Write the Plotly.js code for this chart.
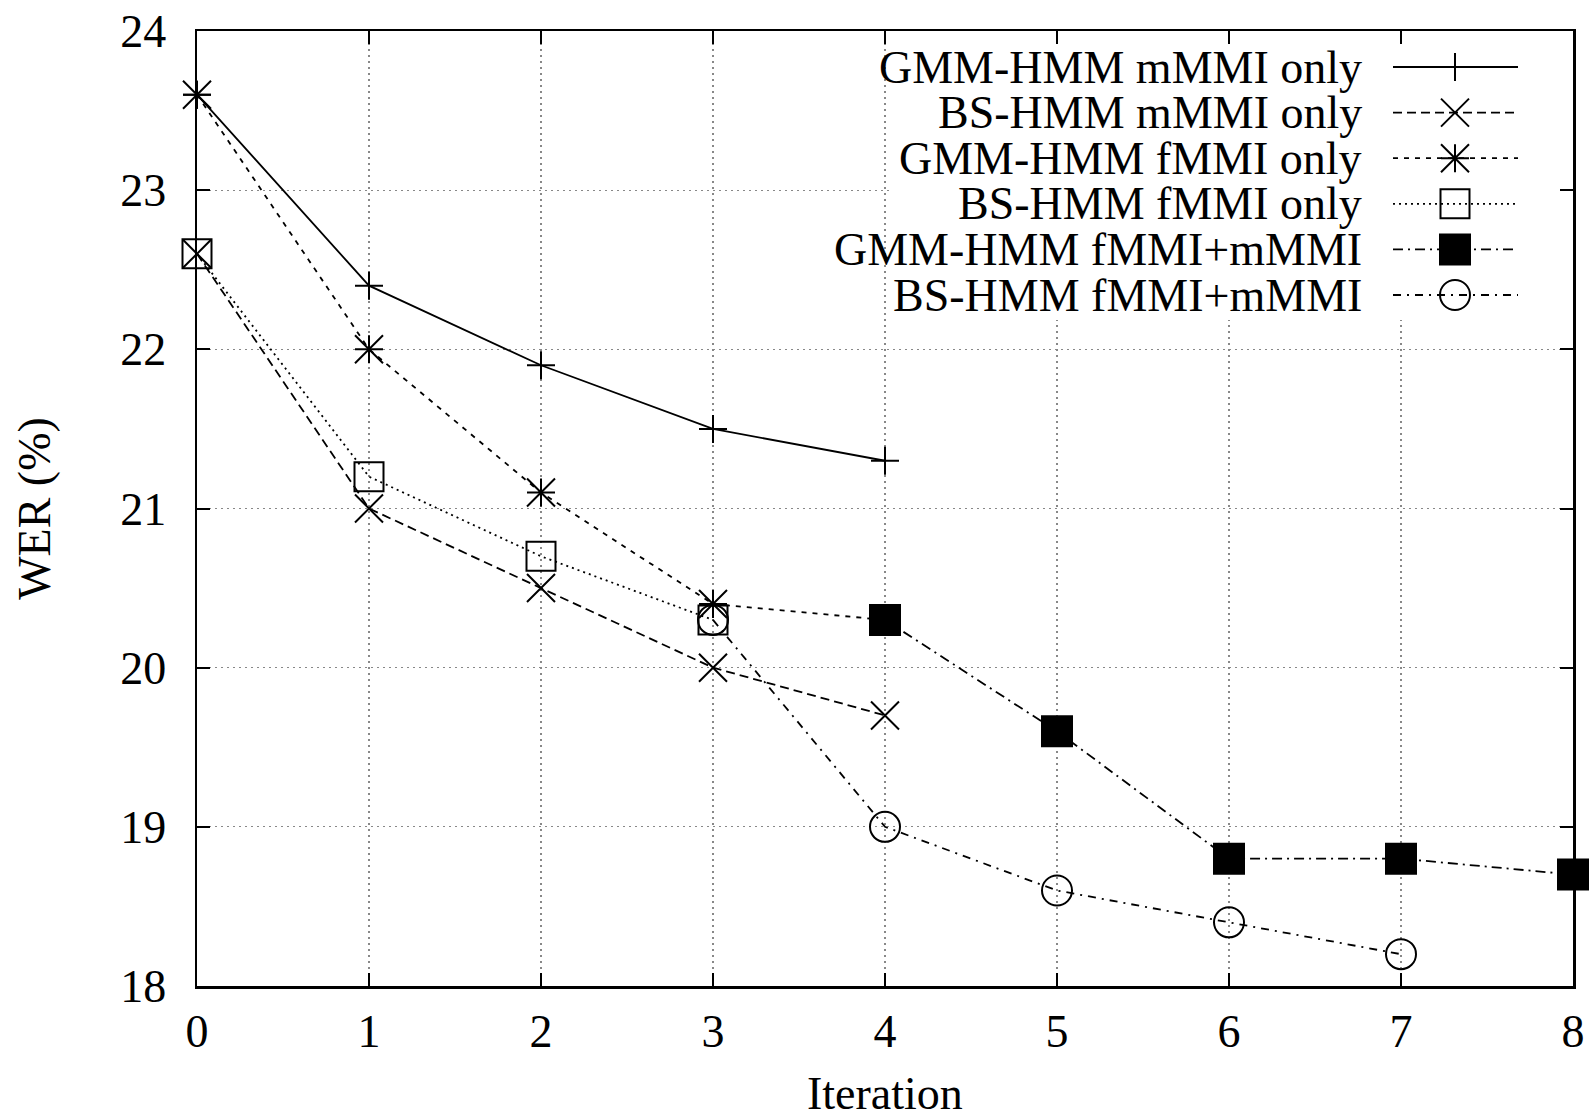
<!DOCTYPE html>
<html>
<head>
<meta charset="utf-8">
<script src="https://cdn.plot.ly/plotly-3.0.1.min.js"></script>
<style>html,body{margin:0;padding:0;background:#fff;}#chart{width:1593px;height:1119px;}</style>
</head>
<body>
<div id="chart"></div>
<script>
// ---- data ----
const seriesNames = [
  "GMM-HMM mMMI only",
  "BS-HMM mMMI only",
  "GMM-HMM fMMI only",
  "BS-HMM fMMI only",
  "GMM-HMM fMMI+mMMI",
  "BS-HMM fMMI+mMMI"
];
const gmmMmmiX = [0, 1, 2, 3, 4];
const gmmMmmiY = [23.6, 22.4, 21.9, 21.5, 21.3];
const bsMmmiX = [0, 1, 2, 3, 4];
const bsMmmiY = [22.6, 21.0, 20.5, 20.0, 19.7];
const gmmFmmiX = [0, 1, 2, 3, 4];
const gmmFmmiY = [23.6, 22.0, 21.1, 20.4, 20.3];
const bsFmmiX = [0, 1, 2, 3];
const bsFmmiY = [22.6, 21.2, 20.7, 20.3];
const gmmBothX = [4, 5, 6, 7, 8];
const gmmBothY = [20.3, 19.6, 18.8, 18.8, 18.7];
const bsBothX = [3, 4, 5, 6, 7];
const bsBothY = [20.3, 19.0, 18.6, 18.4, 18.2];
const xTicks = [0, 1, 2, 3, 4, 5, 6, 7, 8];
const yTicks = [18, 19, 20, 21, 22, 23, 24];
const xTitle = "Iteration";
const yTitle = "WER (%)";

// ---- styles ----
const FONT = "Liberation Serif, Times New Roman, serif";
const FS = 46;
const W = 1593, H = 1119;
const L = 197, R = 20, T = 31, B = 133;
const PX0 = L, PX1 = W - R, PY0 = T, PY1 = H - B;

const styles = [
  {dash: "solid", sym: "cross-thin-open", size: 20},
  {dash: "9px,5px", sym: "x-thin-open", size: 28},
  {dash: "5px,6px", sym: "cross-thin-open", size: 20, extra: {sym: "x-thin-open", size: 28}},
  {dash: "2px,4px", sym: "square-open", size: 29},
  {dash: "10px,5px,2px,5px", sym: "square", size: 30},
  {dash: "8px,6px,2px,6px", sym: "circle-open", size: 30}
];
const xs = [gmmMmmiX, bsMmmiX, gmmFmmiX, bsFmmiX, gmmBothX, bsBothX];
const ys = [gmmMmmiY, bsMmmiY, gmmFmmiY, bsFmmiY, gmmBothY, bsBothY];

const traces = [];
xs.forEach((x, i) => {
  const s = styles[i];
  traces.push({
    type: "scatter", mode: "lines+markers", x: x, y: ys[i], name: seriesNames[i],
    showlegend: false, cliponaxis: false,
    line: {color: "#000", width: 1.8, dash: s.dash},
    marker: {symbol: s.sym, size: s.size, color: "#000", line: {color: "#000", width: 2}}
  });
  if (s.extra) {
    traces.push({
      type: "scatter", mode: "markers", x: x, y: ys[i], showlegend: false, cliponaxis: false,
      hoverinfo: "skip",
      marker: {symbol: s.extra.sym, size: s.extra.size, color: "#000", line: {color: "#000", width: 2}}
    });
  }
});

// ---- custom key (text right-aligned, sample on the right), drawn on a pixel overlay axis ----
const keyTextRight = 1363, keyLineX0 = 1393, keyLineX1 = 1518, keyRow0 = 67, keyStep = 45.6;
const annotations = [];
seriesNames.forEach((nm, i) => {
  const yy = keyRow0 + keyStep * i;
  const s = styles[i];
  const mid = 1455;
  traces.push({
    type: "scatter", mode: "lines", x: [keyLineX0, keyLineX1], y: [yy, yy], xaxis: "x2", yaxis: "y2",
    showlegend: false, hoverinfo: "skip", cliponaxis: false,
    line: {color: "#000", width: 1.8, dash: s.dash}
  });
  traces.push({
    type: "scatter", mode: "markers", x: [mid], y: [yy], xaxis: "x2", yaxis: "y2",
    showlegend: false, hoverinfo: "skip", cliponaxis: false,
    marker: {symbol: s.sym, size: s.size, color: "#000", line: {color: "#000", width: 2}}
  });
  if (s.extra) {
    traces.push({
      type: "scatter", mode: "markers", x: [mid], y: [yy], xaxis: "x2", yaxis: "y2",
      showlegend: false, hoverinfo: "skip", cliponaxis: false,
      marker: {symbol: s.extra.sym, size: s.extra.size, color: "#000", line: {color: "#000", width: 2}}
    });
  }
  annotations.push({
    xref: "x2", yref: "y2", x: keyTextRight, y: yy, xanchor: "right", yanchor: "middle",
    borderpad: 0,
    text: nm, showarrow: false, font: {family: FONT, size: FS, color: "#000"}
  });
});

// x-axis title as an annotation (the axis title would be clamped inside the bottom margin)
annotations.push({
  xref: "paper", yref: "paper", x: 0.5, y: (PY1 - 1093) / (PY1 - PY0),
  xanchor: "center", yanchor: "middle", showarrow: false, borderpad: 0,
  text: xTitle, font: {family: FONT, size: FS, color: "#000"}
});

const axisCommon = {
  showline: true, linecolor: "#000", linewidth: 2.5, mirror: "allticks",
  ticks: "inside", ticklen: 13, tickwidth: 2, tickcolor: "#000",
  showgrid: true, gridcolor: "#888", gridwidth: 1.2, griddash: "2px,4px",
  zeroline: false, tickfont: {family: FONT, size: FS, color: "#000"},
  layer: "above traces"
};

// key box (white, hides grid) in main-axis units computed from pixels
const keyBoxPx = {x0: 889, y1: 320};
const kx0 = 0 + (keyBoxPx.x0 - PX0) / (PX1 - PX0) * 8;
const ky0 = 24 - (keyBoxPx.y1 - PY0) / (PY1 - PY0) * 6;

const layout = {
  width: W, height: H,
  margin: {l: L, r: R, t: T, b: B},
  paper_bgcolor: "#fff", plot_bgcolor: "#fff",
  showlegend: false,
  font: {family: FONT, size: FS, color: "#000"},
  xaxis: Object.assign({}, axisCommon, {
    range: [0, 8], tickvals: xTicks, ticktext: xTicks.map(String),
    ticklabelstandoff: 3
  }),
  yaxis: Object.assign({}, axisCommon, {
    range: [18, 24], tickvals: yTicks, ticktext: yTicks.map(String),
    ticklabelstandoff: 19,
    title: {text: yTitle, font: {family: FONT, size: FS, color: "#000"}, standoff: 55}
  }),
  xaxis2: {overlaying: "x", anchor: "y2", range: [PX0, PX1], visible: false, fixedrange: true},
  yaxis2: {overlaying: "y", anchor: "x2", range: [PY1, PY0], visible: false, fixedrange: true},
  shapes: [{
    type: "rect", xref: "x", yref: "y", layer: "between",
    x0: kx0, x1: 8, y0: ky0, y1: 24,
    fillcolor: "#fff", line: {width: 0}
  }],
  annotations: annotations
};

Plotly.newPlot("chart", traces, layout, {staticPlot: true, displayModeBar: false});
</script>
</body>
</html>
